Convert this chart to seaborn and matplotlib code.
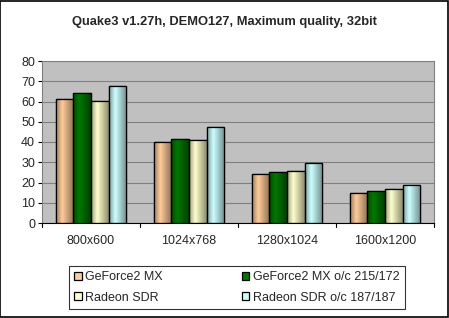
import matplotlib
matplotlib.use("Agg")
import matplotlib.pyplot as plt
import matplotlib.colors as mcolors
import seaborn as sns
import pandas as pd
import numpy as np

resolutions = ["800x600", "1024x768", "1280x1024", "1600x1200"]
geforce = [61.1, 39.8, 24.0, 14.7]
geforce_oc = [64.0, 41.3, 25.0, 15.7]
radeon = [60.4, 40.8, 25.5, 16.6]
radeon_oc = [67.5, 47.3, 29.5, 18.6]
series = ["GeForce2 MX", "GeForce2 MX o/c 215/172", "Radeon SDR", "Radeon SDR o/c 187/187"]
colors = ["#FFCC99", "#007800", "#FFFFCC", "#CCFFFF"]
yticks = [0, 10, 20, 30, 40, 50, 60, 70, 80]

rows = []
for s, vals in zip(series, [geforce, geforce_oc, radeon, radeon_oc]):
    for r, v in zip(resolutions, vals):
        rows.append({"Resolution": r, "Card": s, "FPS": v})
df = pd.DataFrame(rows)

sns.set_theme(style="white")
plt.rcParams["font.family"] = ["Liberation Sans", "DejaVu Sans"]

fig = plt.figure(figsize=(4.49, 3.18), dpi=100)
ax = fig.add_axes([42/449, 1-223/318, 392/449, 162/318])
ax.set_facecolor("#C0C0C0")

sns.barplot(data=df, x="Resolution", y="FPS", hue="Card", hue_order=series,
            palette=colors, order=resolutions, width=0.72, gap=0,
            edgecolor="black", linewidth=0.9, saturation=1, ax=ax, legend=True)

ax.set_ylim(0, 80)
ax.set_xlim(-0.5, 3.5)

# cylinder-like shading on each bar
prof_x = np.linspace(0, 1, 64)
shade = np.interp(prof_x, [0, 0.35, 1.0], [0.62, 1.0, 0.55])
for p in list(ax.patches):
    if p.get_height() <= 0:
        continue
    base = np.array(mcolors.to_rgb(p.get_facecolor()))
    grad = np.clip(shade[:, None] * base[None, :], 0, 1)[None, :, :]
    x0, y0 = p.get_x(), p.get_y()
    w, h = p.get_width(), p.get_height()
    im = ax.imshow(grad, extent=[x0, x0 + w, y0, y0 + h], aspect="auto",
                   interpolation="bilinear", zorder=p.get_zorder() + 0.01)
    im.set_clip_path(p)
    edge = plt.Rectangle((x0, y0), w, h, fill=False, edgecolor="black",
                         linewidth=0.9, zorder=p.get_zorder() + 0.02)
    ax.add_patch(edge)
ax.set_ylim(0, 80)
ax.set_xlim(-0.5, 3.5)

ax.set_yticks(yticks)
ax.set_yticklabels([str(t) for t in yticks], fontsize=9)
ax.yaxis.grid(True, color="#808080", linewidth=0.8)
ax.set_axisbelow(True)
ax.set_xlabel("")
ax.set_ylabel("")
ax.set_xticks(range(4))
ax.set_xticklabels(resolutions, fontsize=9)
ax.tick_params(axis="x", length=0, pad=9)
ax.tick_params(axis="y", length=3, width=0.8, color="black", left=True, pad=2)
for x in [-0.5, 0.5, 1.5, 2.5, 3.5]:
    ax.plot([x, x], [0, -0.025], transform=ax.get_xaxis_transform(), color="black",
            linewidth=0.8, clip_on=False)
for side in ["top", "right", "left"]:
    ax.spines[side].set_color("#808080")
ax.spines["bottom"].set_color("black")
for sp in ax.spines.values():
    sp.set_linewidth(0.8)

leg = ax.get_legend()
handles = leg.legend_handles
leg.remove()
order = [0, 2, 1, 3]
fig.legend([handles[i] for i in order], [series[i] for i in order], ncol=2, loc="center",
           bbox_to_anchor=(237/449, 1-287.5/318),
           frameon=True, fancybox=False, edgecolor="black", fontsize=9,
           handlelength=0.6, handleheight=0.6, handletextpad=0.3, columnspacing=6.3,
           borderpad=0.4, labelspacing=0.65)
for h in handles:
    h.set_linewidth(0.8)
fig.legends[0].get_frame().set_linewidth(0.8)

fig.text(0.5, 1-22/318, "Quake3 v1.27h, DEMO127, Maximum quality, 32bit",
         ha="center", va="center", fontsize=9.3, fontweight="bold")

fig.patches.append(plt.Rectangle((0.001, 0.002), 0.997, 0.996, transform=fig.transFigure,
                                 fill=False, edgecolor="black", linewidth=1.2))
fig.savefig("out.png", dpi=100, facecolor="white")
